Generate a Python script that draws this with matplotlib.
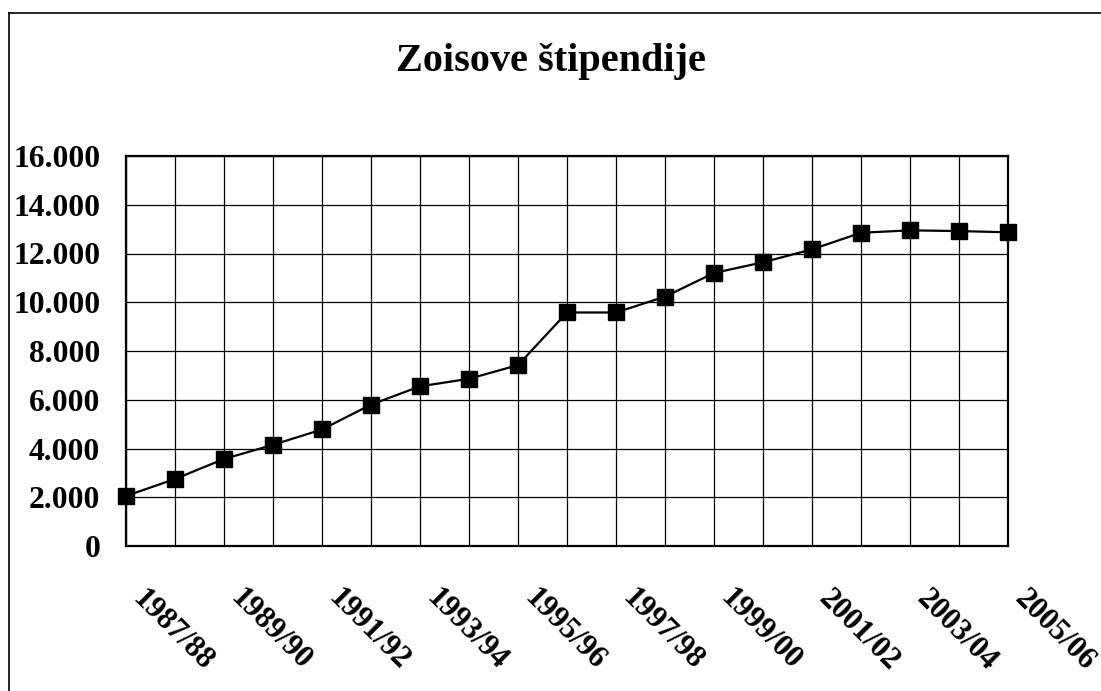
import numpy as np
import matplotlib.pyplot as plt
from matplotlib.ticker import FuncFormatter

# school years, one point per year
years = ["1987/88", "1988/89", "1989/90", "1990/91", "1991/92", "1992/93",
         "1993/94", "1994/95", "1995/96", "1996/97", "1997/98", "1998/99",
         "1999/00", "2000/01", "2001/02", "2002/03", "2003/04", "2004/05",
         "2005/06"]
# number of Zois scholarships
stipends = [2050, 2750, 3570, 4150, 4780, 5800, 6550, 6860, 7420,
            9580, 9580, 10230, 11200, 11640, 12170, 12850, 12950, 12920, 12870]

yticks = [0, 2000, 4000, 6000, 8000, 10000, 12000, 14000, 16000]

font = "Liberation Serif"
W, H = 1101, 691

fig = plt.figure(figsize=(W / 100, H / 100), dpi=100)
ax = fig.add_axes([126 / W, 1 - 546 / H, 882 / W, 390 / H])

x = np.arange(len(years))
ax.plot(x, stipends, color="black", lw=1.6, marker="s", ms=11.5,
        mfc="black", mec="black", clip_on=False, zorder=3)

ax.set_xlim(0, len(years) - 1)
ax.set_ylim(0, 16000)
ax.set_xticks(x)
ax.set_xticklabels([])
ax.set_yticks(yticks)
ax.yaxis.set_major_formatter(FuncFormatter(lambda v, p: f"{int(v):,}".replace(",", ".")))
ax.tick_params(axis="both", length=0)
ax.tick_params(axis="y", pad=18.5)
for lab in ax.get_yticklabels():
    lab.set_fontfamily(font)
    lab.set_fontweight("bold")
    lab.set_fontsize(22.8)

ax.grid(True, color="black", lw=0.9)
ax.set_axisbelow(True)
for s in ax.spines.values():
    s.set_linewidth(1.6)

# every other year is labelled, slanted down to the right
for i in range(0, len(years), 2):
    ax.annotate(years[i], xy=(i, 0), xycoords=("data", "axes fraction"),
                xytext=(47, -84), textcoords="offset pixels",
                rotation=-45, rotation_mode="anchor", ha="center", va="center",
                fontsize=22.3, fontweight="bold", fontfamily=font)

fig.text(0.5, 1 - 61 / H, "Zoisove štipendije", ha="center", va="center",
         fontsize=29, fontweight="bold", fontfamily=font)

# outer chart frame (only top and left edges visible)
fig.add_artist(plt.Line2D([9 / W, 1], [1 - 13 / H, 1 - 13 / H], color="black", lw=1.2))
fig.add_artist(plt.Line2D([9 / W, 9 / W], [0, 1 - 13 / H], color="black", lw=1.2))

fig.savefig("out.png", dpi=100)
